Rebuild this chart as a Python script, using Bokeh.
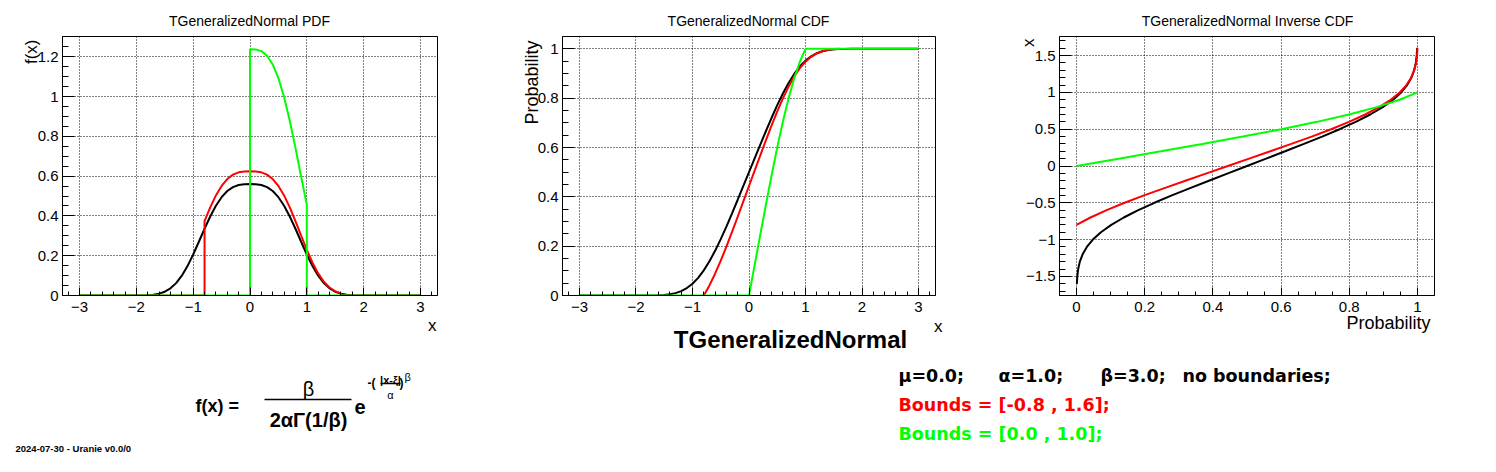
import numpy as np
from bokeh.plotting import figure
from bokeh.models import Range1d, FixedTicker, CustomJSTickFormatter, Label
from bokeh.layouts import row, column
from bokeh.embed import file_html
from bokeh.resources import INLINE

# ---------------- data (generalized normal mu=0, alpha=1, beta=3) ----------------
x_black = [-3.0, -2.0, -1.9, -1.8, -1.7, -1.6, -1.5, -1.4, -1.3, -1.2, -1.1, -1.0, -0.9, -0.8, -0.7,
           -0.6, -0.5, -0.4, -0.3, -0.2, -0.1, 0.0, 0.1, 0.2, 0.3, 0.4, 0.5, 0.6, 0.7, 0.8, 0.9,
           1.0, 1.1, 1.2, 1.3, 1.4, 1.5, 1.6, 1.7, 1.8, 1.9, 2.0, 3.0]
pdf_black = [0.0, 0.0002, 0.0006, 0.0016, 0.0041, 0.0093, 0.0192, 0.0360, 0.0622, 0.0995, 0.1479,
             0.2060, 0.2701, 0.3356, 0.3973, 0.4512, 0.4942, 0.5252, 0.5450, 0.5555, 0.5594, 0.5599,
             0.5594, 0.5555, 0.5450, 0.5252, 0.4942, 0.4512, 0.3973, 0.3356, 0.2701, 0.2060, 0.1479,
             0.0995, 0.0622, 0.0360, 0.0192, 0.0093, 0.0041, 0.0016, 0.0006, 0.0002, 0.0]
cdf_black = [0.0, 0.0, 0.0, 0.0001, 0.0003, 0.0009, 0.0022, 0.0048, 0.0097, 0.0178, 0.0302, 0.0478,
             0.0715, 0.1019, 0.1386, 0.1811, 0.2284, 0.2795, 0.3331, 0.3882, 0.4440, 0.5, 0.5560,
             0.6118, 0.6669, 0.7205, 0.7716, 0.8189, 0.8614, 0.8981, 0.9285, 0.9522, 0.9698, 0.9822,
             0.9903, 0.9952, 0.9978, 0.9991, 0.9997, 0.9999, 1.0, 1.0, 1.0]

# bounds [-0.8, 1.6]
x_red = [-0.8, -0.7, -0.6, -0.5, -0.4, -0.3, -0.2, -0.1, 0.0, 0.1, 0.2, 0.3, 0.4, 0.5, 0.6, 0.7,
         0.8, 0.9, 1.0, 1.1, 1.2, 1.3, 1.4, 1.5, 1.6]
pdf_red = [0.3741, 0.4429, 0.5030, 0.5509, 0.5855, 0.6076, 0.6193, 0.6236, 0.6242, 0.6236, 0.6193,
           0.6076, 0.5855, 0.5509, 0.5030, 0.4429, 0.3741, 0.3011, 0.2297, 0.1649, 0.1109, 0.0693,
           0.0401, 0.0214, 0.0104]
cdf_red = [0.0, 0.0409, 0.0883, 0.1410, 0.1980, 0.2578, 0.3192, 0.3814, 0.4438, 0.5062, 0.5684,
           0.6299, 0.6896, 0.7466, 0.7993, 0.8467, 0.8876, 0.9215, 0.9479, 0.9676, 0.9814, 0.9904,
           0.9959, 0.9988, 1.0]

# bounds [0.0, 1.0]
x_green = [0.0, 0.1, 0.2, 0.3, 0.4, 0.5, 0.6, 0.7, 0.8, 0.9, 1.0]
pdf_green = [1.2383, 1.2371, 1.2285, 1.2053, 1.1615, 1.0929, 0.9978, 0.8786, 0.7422, 0.5973, 0.4556]
cdf_green = [0.0, 0.1238, 0.2472, 0.3691, 0.4876, 0.6006, 0.7052, 0.7992, 0.8804, 0.9476, 1.0]

titles = ["TGeneralizedNormal PDF", "TGeneralizedNormal CDF", "TGeneralizedNormal Inverse CDF"]

x_lo, x_hi = -3.0, 3.0
BLACK, RED, GREEN = "#000000", "#ff0000", "#00ff00"
FONT = "Liberation Sans"
LW = 2
TOP_H = 340

fmt = CustomJSTickFormatter(code="return (Math.round(tick*1000)/1000).toString().replace('-', '\u2212');")


def panel(ox, w, frame, xr, yr, xt, xm, yt, ym):
    l, r, t, b = frame
    p = figure(width=w, height=TOP_H, x_range=Range1d(*xr), y_range=Range1d(*yr),
               output_backend="svg", toolbar_location=None,
               min_border_left=l - ox, min_border_right=ox + w - r,
               min_border_top=t, min_border_bottom=TOP_H - b)
    p.outline_line_color = "black"
    p.outline_line_width = 1
    p.background_fill_color = "white"
    p.border_fill_color = "white"
    for ax, tk, mt, tin, tmin, so in ((p.xaxis[0], xt, xm, 8, 4, 6), (p.yaxis[0], yt, ym, 12, 6, 4)):
        ax.ticker = FixedTicker(ticks=tk, minor_ticks=mt)
        ax.formatter = fmt
        ax.major_tick_in = tin
        ax.major_tick_out = 0
        ax.minor_tick_in = tmin
        ax.minor_tick_out = 0
        ax.major_label_standoff = so
        ax.major_label_text_font = FONT
        ax.major_label_text_font_size = "15px"
        ax.major_label_text_color = "black"
        ax.axis_line_color = "black"
        ax.major_tick_line_color = "black"
        ax.minor_tick_line_color = "black"
    p.xgrid.ticker = FixedTicker(ticks=xt)
    p.ygrid.ticker = FixedTicker(ticks=yt)
    for g in (p.xgrid[0], p.ygrid[0]):
        g.grid_line_color = "black"
        g.grid_line_dash = "1 2"
        g.grid_line_width = 1
        g.grid_line_alpha = 1.0
    return p


def ticks(a, b, s):
    return [float(v) for v in np.round(np.arange(a, b + s / 2, s), 3)]


# ---------------- panel 1 : PDF ----------------
p1 = panel(0, 498, (62, 437, 36, 295), (-3.3, 3.3), (0.0, 1.302),
           ticks(-3, 3, 1), ticks(-3.2, 3.2, 0.2), ticks(0, 1.2, 0.2), ticks(0, 1.3, 0.05))
p1.line(x_black, pdf_black, line_color=BLACK, line_width=LW)
p1.line([x_lo, x_red[0]] + x_red + [x_red[-1], x_hi], [0, 0] + pdf_red + [0, 0], line_color=RED, line_width=LW)
p1.line([x_lo, x_green[0]] + x_green + [x_green[-1], x_hi], [0, 0] + pdf_green + [0, 0], line_color=GREEN, line_width=LW)

# ---------------- panel 2 : CDF ----------------
p2 = panel(498, 499, (562, 935, 36, 295), (-3.3, 3.3), (0.0, 1.05),
           ticks(-3, 3, 1), ticks(-3.2, 3.2, 0.2), ticks(0, 1, 0.2), ticks(0, 1.05, 0.05))
p2.line(x_black, cdf_black, line_color=BLACK, line_width=LW)
p2.line(x_red, cdf_red, line_color=RED, line_width=LW)
p2.line([x_lo, x_green[0]] + x_green + [x_hi], [0, 0] + cdf_green + [1.0], line_color=GREEN, line_width=LW)

# ---------------- panel 3 : inverse CDF ----------------
inv_idx = [i for i, v in enumerate(x_black) if -1.6 <= v <= 1.6]
p3 = panel(997, 483, (1059, 1434, 36, 295), (-0.05, 1.05), (-1.76, 1.76),
           ticks(0, 1, 0.2), ticks(-0.05, 1.05, 0.05), ticks(-1.5, 1.5, 0.5), ticks(-1.7, 1.7, 0.1))
p3.line([0.0] + [cdf_black[i] for i in inv_idx] + [1.0],
        [x_black[inv_idx[0]]] + [x_black[i] for i in inv_idx] + [x_black[inv_idx[-1]]],
        line_color=BLACK, line_width=LW)
p3.line(cdf_red, x_red, line_color=RED, line_width=LW)
p3.line(cdf_green, x_green, line_color=GREEN, line_width=LW)

# ---------------- transparent text overlay (page pixel coordinates) ----------------
ov = figure(width=1480, height=456, x_range=Range1d(0, 1480), y_range=Range1d(456, 0),
            output_backend="svg", toolbar_location=None, x_axis_location=None, y_axis_location=None,
            min_border=0, min_border_left=0, min_border_right=0, min_border_top=0, min_border_bottom=0,
            margin=(-TOP_H, 0, 0, 0))
ov.outline_line_color = None
ov.background_fill_color = None
ov.border_fill_color = None
ov.grid.visible = False


def lab(x, y, text, size, align="left", style="normal", font=FONT, color="black", angle=0.0):
    ov.add_layout(Label(x=x, y=y, text=text, text_font=font, text_font_size=size, text_align=align,
                        text_baseline="alphabetic", text_font_style=style, text_color=color,
                        angle=angle))


# panel titles and axis titles
lab(249, 20, titles[0], "14px", align="center")
lab(748, 20, titles[1], "14px", align="center")
lab(1247, 20, titles[2], "14px", align="center")
lab(31, 39, "f(x)", "17px", align="right", angle=np.pi / 2)
lab(436, 325, "x", "17px", align="right")
lab(531, 40, "Probability", "18px", align="right", angle=np.pi / 2)
lab(942, 326, "x", "17px", align="right")
lab(790, 339, "TGeneralizedNormal", "24px", align="center", style="bold")
lab(1028, 38, "x", "17px", align="right", angle=np.pi / 2)
lab(1430, 322, "Probability", "18px", align="right")

# formula
lab(195, 405, "f(x) =", "18px", style="bold")
lab(308, 388, "β", "20px", align="center")
ov.segment(x0=[264, 380], y0=[399, 383], x1=[351, 400], y1=[399, 383], line_color="black", line_width=1.5)
lab(308, 419, "2αΓ(1/β)", "20px", align="center", style="bold")
lab(354, 406, "e", "20px", style="bold")
lab(367, 382, "-(", "12px", style="bold")
lab(390, 379, "|x-ξ|", "11px", align="center", style="bold")
lab(390, 394, "α", "11px", align="center")
lab(399, 382, ")", "12px", style="bold")
lab(404, 376, "β", "11px")

# parameters
DV = "DejaVu Sans"
lab(898, 375, "μ=0.0;", "17.5px", font=DV, style="bold")
lab(998, 375, "α=1.0;", "17.5px", font=DV, style="bold")
lab(1100, 375, "β=3.0;", "17.5px", font=DV, style="bold")
lab(1182, 375, "no boundaries;", "17.5px", font=DV, style="bold")
lab(898, 404, "Bounds = [-0.8 , 1.6];", "17.5px", font=DV, style="bold", color=RED)
lab(898, 433, "Bounds = [0.0 , 1.0];", "17.5px", font=DV, style="bold", color=GREEN)

# footer
lab(15, 448, "2024-07-30 - Uranie v0.0/0", "9.5px", style="bold")

layout = column(row(p1, p2, p3), ov)
open("out.html", "w").write(file_html(layout, INLINE))
